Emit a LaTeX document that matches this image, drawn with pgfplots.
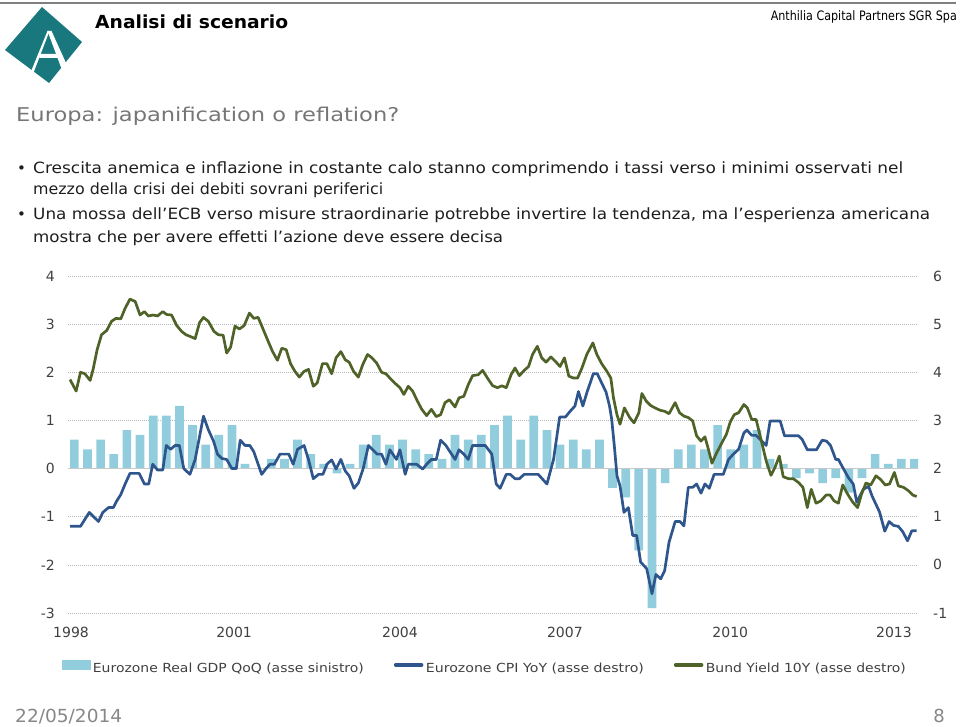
\documentclass[border=0pt]{standalone}
\usepackage{fontspec}
\setmainfont{DejaVu Sans}
\usepackage{graphicx}
\usepackage{pgfplots}
\pgfplotsset{compat=1.18}
\definecolor{teal1}{RGB}{24,120,126}
\definecolor{titlegray}{RGB}{118,118,118}
\definecolor{textdark}{RGB}{30,30,30}
\definecolor{tickgray}{RGB}{64,64,64}
\definecolor{footgray}{RGB}{135,135,135}
\definecolor{gridgray}{RGB}{185,185,185}
\definecolor{zerogray}{RGB}{200,200,200}
\definecolor{barblue}{RGB}{146,205,221}
\definecolor{cpiblue}{RGB}{46,86,140}
\definecolor{bundgreen}{RGB}{79,98,40}
\newcommand\txt[3]{\resizebox{#1}{\height}{\fontsize{#2pt}{#2pt}\selectfont #3}}
\begin{document}
\begin{tikzpicture}[x=1pt,y=1pt]
\path[use as bounding box] (0,0) rectangle (960,726);
% header rule
\draw[color=gray, line width=1.3pt] (0,723) -- (956,723);
% logo
\fill[teal1] (42,719) -- (82,684) -- (49,643) -- (5,676) -- cycle;
\fill[white] (47.5,695) -- (51.5,695) -- (71,652) -- (63.5,652) -- cycle;
\fill[white] (47.5,695) -- (49.5,695) -- (33,652) -- (30,652) -- cycle;
\fill[white] (39.5,668) -- (58.5,668) -- (60,672) -- (38,672) -- cycle;
% header texts
\node[anchor=base west, inner sep=0] at (95,697.7) {\txt{193pt}{18}{\bfseries Analisi di scenario}};
\node[anchor=base east, inner sep=0] at (957,705.3) {\txt{186pt}{13}{Anthilia Capital Partners SGR Spa}};
\node[anchor=base west, inner sep=0, text=titlegray] at (16,604.3) {\txt{383pt}{19}{Europa: japanification o reflation?}};
% bullets
\begin{scope}[every node/.style={anchor=base west, inner sep=0, text=textdark}]
\node at (17,552) {\fontsize{15pt}{15pt}\selectfont •};
\node at (33,552) {\txt{870pt}{15.5}{Crescita anemica e inflazione in costante calo stanno comprimendo i tassi verso i minimi osservati nel}};
\node at (33,531) {\txt{350pt}{15.5}{mezzo della crisi dei debiti sovrani periferici}};
\node at (17,506) {\fontsize{15pt}{15pt}\selectfont •};
\node at (33,506) {\txt{897pt}{15.5}{Una mossa dell’ECB verso misure straordinarie potrebbe invertire la tendenza, ma l’esperienza americana}};
\node at (33,483) {\txt{470pt}{15.5}{mostra che per avere effetti l’azione deve essere decisa}};
\end{scope}
% footer
\node[anchor=base west, inner sep=0, text=footgray] at (15,4) {\txt{107pt}{18}{22/05/2014}};
\node[anchor=base east, inner sep=0, text=footgray] at (945,4) {\fontsize{18pt}{18pt}\selectfont 8};

% ---------- left axis: GDP bars ----------
\begin{axis}[
  at={(68pt,113pt)}, anchor=south west, scale only axis,
  width=850pt, height=337pt,
  xmin=-0.46, xmax=193.8, ymin=-3, ymax=4,
  axis line style={draw=none}, major tick length=0pt,
  xtick={0.23,37.5,75.4,113.1,150.9,188.3},
  xticklabels={1998,2001,2004,2007,2010,2013},
  ytick={-3,-2,-1,0,1,2,3,4},
  ymajorgrids, grid style={color=gridgray, line width=0.7pt, dash pattern=on 0.7pt off 1.3pt},
  /pgf/number format/assume math mode=true,
  ticklabel style={font=\fontsize{14pt}{14pt}\selectfont, text=tickgray},
  yticklabel style={anchor=east, inner sep=0pt, xshift=-13pt},
  xticklabel style={anchor=center, inner sep=0pt, yshift=-19pt},
]
\addplot[ybar, bar width=8.7pt, bar shift=0pt, fill=barblue, draw=none] coordinates {
(1,0.6) (4,0.4) (7,0.6) (10,0.3) (13,0.8) (16,0.7) (19,1.1) (22,1.1) (25,1.3) (28,0.9)
(31,0.5) (34,0.7) (37,0.9) (40,0.1) (43,0.0) (46,0.2) (49,0.2) (52,0.6) (55,0.3) (58,0.1)
(61,-0.1) (64,0.1) (67,0.5) (70,0.7) (73,0.5) (76,0.6) (79,0.4) (82,0.3) (85,0.2) (88,0.7)
(91,0.6) (94,0.7) (97,0.9) (100,1.1) (103,0.6) (106,1.1) (109,0.8) (112,0.5) (115,0.6) (118,0.4)
(121,0.6) (124,-0.4) (127,-0.6) (130,-1.7) (133,-2.9) (136,-0.3) (139,0.4) (142,0.5) (145,0.4) (148,0.9)
(151,0.4) (154,0.5) (157,0.8) (160,0.2) (163,0.1) (166,-0.2) (169,-0.1) (172,-0.3) (175,-0.2) (178,-0.5)
(181,-0.2) (184,0.3) (187,0.1) (190,0.2) (193,0.2)
};
\draw[color=zerogray, line width=1.4pt] (axis cs:-0.46,0) -- (axis cs:193.8,0);
\end{axis}

% ---------- right axis: CPI and Bund ----------
\begin{axis}[
  at={(68pt,113pt)}, anchor=south west, scale only axis,
  width=850pt, height=337pt,
  xmin=-0.46, xmax=193.8, ymin=-1, ymax=6,
  axis y line*=right, hide x axis,
  axis line style={draw=none}, major tick length=0pt,
  ytick={-1,0,1,2,3,4,5,6},
  /pgf/number format/assume math mode=true,
  ticklabel style={font=\fontsize{14pt}{14pt}\selectfont, text=tickgray},
  yticklabel style={anchor=west, inner sep=0pt, xshift=15pt},
  legend columns=3,
  legend cell align=left,
  legend style={at={(-0.00706,-0.1602)}, anchor=west, draw=none, fill=none,
    inner sep=0pt, outer sep=0pt, nodes={inner sep=0pt},
    font=\fontsize{12.5pt}{12.5pt}\selectfont, text=tickgray,
    /tikz/every odd column/.append style={column sep=2.5pt},
    /tikz/every even column/.append style={column sep=30pt}},
]
\addlegendimage{legend image code/.code={\fill[barblue] (0pt,-1pt) rectangle (28pt,8pt);}}
\addlegendentry{\resizebox{271pt}{\height}{Eurozone Real GDP QoQ (asse sinistro)}}
\addplot[color=cpiblue, line width=2.7pt, line join=round,
  legend image code/.code={\draw[cpiblue, line width=3.5pt, line cap=round] (1pt,3.5pt) -- (27pt,3.5pt);}]
coordinates {
(0,0.8) (2.4,0.8) (4.4,1.09) (6.5,0.9) (7.5,1.09) (8.8,1.19) (9.9,1.19) (10.7,1.33) (11.6,1.46) (12.6,1.68)
(13.7,1.9) (15.8,1.9) (17,1.68) (18,1.68) (18.9,2.09) (20,1.97) (21.2,1.97) (22,2.48) (23,2.4) (24,2.48)
(25,2.48) (26,2.0) (27.4,1.88) (28.6,2.19) (30.5,3.09) (31.6,2.81) (32.8,2.57) (33.7,2.3) (34.7,2.21) (35.8,2.19)
(37,2.0) (38,2.0) (38.9,2.59) (40,2.48) (41.1,2.48) (42,2.35) (43.8,1.88) (44.8,2.0) (45.7,2.09) (46.7,2.09)
(48,2.3) (50,2.3) (51,2.09) (52,2.4) (53.5,2.48) (54.5,2.19) (55.6,1.79) (56.8,1.88) (57.8,1.88) (58.7,2.09)
(59.8,2.18) (60.8,1.99) (61.9,2.19) (62.9,1.95) (63.8,1.85) (64.9,1.59) (65.9,1.7) (67,2.0) (68.2,2.48) (69.2,2.39)
(70.2,2.3) (71.2,2.3) (72.2,2.09) (73.1,2.39) (74.6,2.19) (75.4,2.39) (76.6,1.88) (77.3,2.09) (79.2,2.09) (80.6,1.99)
(81.5,2.09) (82.6,2.19) (83.7,2.19) (84.7,2.59) (85.9,2.48) (88,2.19) (88.9,2.39) (90,2.3) (91,2.19) (92,2.48)
(94.9,2.48) (96.4,2.3) (97.4,1.68) (98.3,1.59) (99.7,1.88) (100.6,1.88) (101.7,1.79) (102.7,1.79) (103.8,1.88) (107,1.88)
(109,1.68) (110.5,2.19) (111.9,3.07) (113.2,3.07) (114.3,3.19) (115.4,3.3) (116.2,3.6) (117.2,3.3) (118.2,3.6) (119,3.81)
(119.6,3.97) (120.5,3.97) (121.5,3.78) (122.5,3.59) (123.3,3.3) (123.8,3.02) (124.4,2.47) (125,1.85) (125.7,1.64) (126.6,1.09)
(127.6,1.19) (128.6,0.61) (129.5,0.61) (130.4,0.06) (131.8,-0.08) (133,-0.6) (133.9,-0.2) (135,-0.29) (135.9,-0.12) (136.9,0.47)
(138.3,0.9) (139.4,0.9) (140.3,0.81) (141.3,1.61) (142.3,1.61) (143.2,1.68) (144.2,1.49) (145.1,1.68) (146.1,1.59) (147.2,1.88)
(149.3,1.88) (150.5,2.19) (151.6,2.3) (152.8,2.4) (154,2.74) (154.7,2.8) (155.8,2.69) (156.8,2.69) (157.7,2.61) (159.1,2.48)
(160,2.99) (162.3,2.99) (163.3,2.68) (166.5,2.68) (167.3,2.61) (168.5,2.39) (170.6,2.39) (171.9,2.59) (172.9,2.57) (173.8,2.48)
(175,2.19) (175.6,2.19) (176.8,1.99) (177.9,1.81) (179,1.68) (179.8,1.3) (181.3,1.57) (182.5,1.63) (183.3,1.43) (185,1.1)
(186.2,0.7) (187.2,0.9) (188.2,0.82) (189.3,0.8) (190.3,0.69) (191.4,0.5) (192.4,0.71) (193.5,0.71)
};
\addlegendentry{\resizebox{218pt}{\height}{Eurozone CPI YoY (asse destro)}}
\addplot[color=bundgreen, line width=2.7pt, line join=round,
  legend image code/.code={\draw[bundgreen, line width=3.5pt, line cap=round] (1pt,3.5pt) -- (27pt,3.5pt);}]
coordinates {
(0,3.85) (1.4,3.61) (2.4,4.0) (3.4,3.97) (4.6,3.83) (5.3,4.07) (6.2,4.47) (7.2,4.78) (8.4,4.87) (9.5,5.06)
(10.5,5.12) (11.6,5.11) (12.6,5.33) (13.7,5.52) (14.9,5.47) (16,5.19) (17,5.26) (17.9,5.17) (19,5.19) (20,5.17)
(21.2,5.26) (22.1,5.2) (23.2,5.19) (24.4,4.97) (25.5,4.85) (26.5,4.78) (27.6,4.74) (28.6,4.7) (29.6,5.03) (30.5,5.14)
(31.6,5.06) (32.9,4.85) (33.9,4.78) (35,4.77) (35.8,4.4) (36.7,4.52) (37.7,4.96) (38.7,4.9) (39.8,4.97) (41,5.23)
(42,5.12) (43,5.14) (44.2,4.88) (45.3,4.64) (46.3,4.43) (47.4,4.25) (48.4,4.5) (49.4,4.47) (50.4,4.18) (51.4,4.02)
(52.4,3.9) (53.5,4.02) (54.5,4.06) (55.6,3.71) (56.5,3.78) (57.7,4.18) (58.7,4.18) (59.8,3.97) (60.8,4.3) (61.9,4.43)
(62.9,4.26) (63.8,4.21) (64.8,4.02) (65.9,3.9) (66.9,4.16) (68,4.37) (69,4.3) (70.1,4.19) (71.2,4.0) (72.2,3.97)
(73.3,3.86) (74.3,3.77) (75.4,3.68) (76.3,3.54) (77.3,3.71) (78.3,3.61) (79.4,3.4) (80.4,3.23) (81.5,3.1) (82.6,3.23)
(83.7,3.08) (84.7,3.12) (85.7,3.37) (86.7,3.43) (88,3.28) (88.9,3.47) (90,3.5) (91,3.74) (92,3.93) (93.3,3.95)
(94.3,4.04) (95.4,3.88) (96.6,3.72) (97.7,3.68) (98.7,3.72) (99.7,3.68) (100.8,3.95) (101.7,4.09) (102.7,3.93) (103.8,4.04)
(104.8,4.12) (105.7,4.37) (106.8,4.54) (107.8,4.3) (108.8,4.21) (109.9,4.32) (110.9,4.23) (112,4.12) (113,4.3) (114,3.92)
(115.1,3.88) (116,3.88) (117,4.09) (118.1,4.37) (119.5,4.61) (120.4,4.37) (121.5,4.18) (122.7,4.02) (123.6,3.88) (124.2,3.47)
(125,3.12) (125.7,2.92) (126.7,3.26) (127.9,3.06) (128.9,2.95) (130,3.16) (130.7,3.56) (131.7,3.4) (132.7,3.31) (133.7,3.26)
(134.9,3.21) (135.9,3.19) (136.9,3.14) (138.3,3.37) (139.3,3.16) (140.3,3.09) (141.3,3.06) (142.3,2.99) (143.2,2.68) (144.2,2.57)
(145.1,2.66) (145.9,2.4) (146.7,2.11) (147.8,2.33) (149,2.54) (150,2.71) (150.9,2.97) (151.8,3.12) (152.8,3.16) (154,3.33)
(154.8,3.26) (155.8,3.02) (156.8,3.02) (157.9,2.61) (159.1,2.16) (160.2,1.86) (161.1,2.02) (162.1,2.26) (163,1.83) (164.2,1.79)
(165.3,1.79) (166.5,1.71) (167.5,1.61) (168.5,1.19) (169.4,1.57) (170.5,1.28) (171.6,1.33) (172.8,1.45) (173.7,1.45) (174.6,1.33)
(175.6,1.28) (176.6,1.66) (177.7,1.47) (178.9,1.3) (180,1.19) (180.9,1.47) (181.9,1.7) (183,1.66) (184.2,1.85) (185.3,1.77)
(186.3,1.66) (187.3,1.68) (188.4,1.92) (189.3,1.64) (190.5,1.61) (191.6,1.54) (192.6,1.45) (193.5,1.42)
};
\addlegendentry{\resizebox{200pt}{\height}{Bund Yield 10Y (asse destro)}}
\end{axis}
\end{tikzpicture}
\end{document}
